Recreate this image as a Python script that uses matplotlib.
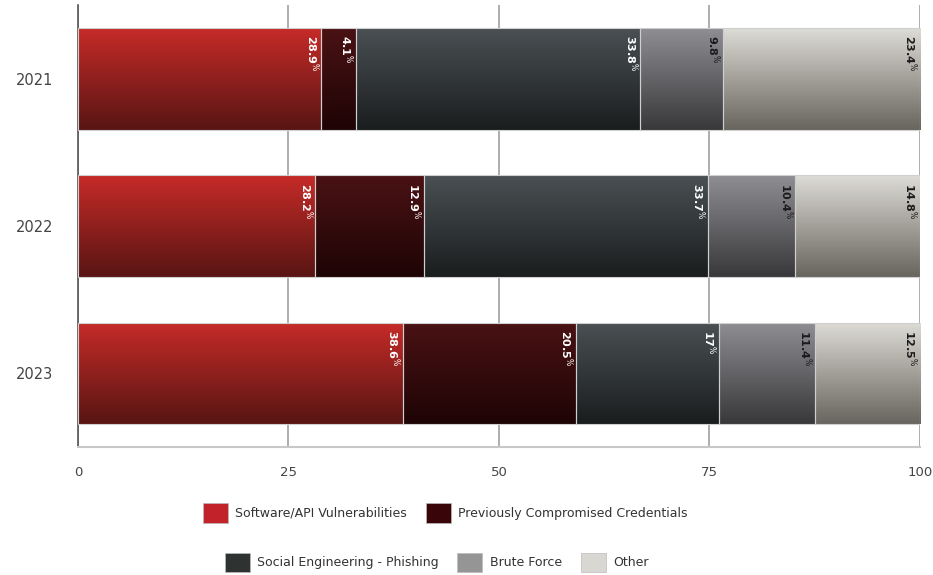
import matplotlib
matplotlib.use('Agg')
import matplotlib.pyplot as plt
import numpy as np
from matplotlib.colors import LinearSegmentedColormap
from matplotlib.patches import Patch

years = ['2021', '2022', '2023']
categories = ['Software/API Vulnerabilities', 'Previously Compromised Credentials',
              'Social Engineering - Phishing', 'Brute Force', 'Other']
software = [28.9, 28.2, 38.6]
credentials = [4.1, 12.9, 20.5]
phishing = [33.8, 33.7, 17]
brute = [9.8, 10.4, 11.4]
other = [23.4, 14.8, 12.5]
series = [software, credentials, phishing, brute, other]

# top / bottom colours of each gradient, plus legend swatch and label colour
grad = [('#c62b28', '#581513'), ('#4a1214', '#1e0405'), ('#4a5053', '#1a1d1e'),
        ('#8f8e93', '#38383a'), ('#dedcd6', '#68645e')]
swatch = ['#c2222a', '#3a0508', '#2e3332', '#959595', '#d9d7d1']
label_col = ['white', 'white', 'white', '#1a1a1a', '#1a1a1a']

fig = plt.figure(figsize=(9.33, 5.75), dpi=100)
ax = fig.add_axes([0.0836, 0.2226, 0.9024, 0.7686])

ypos = np.arange(len(years))
left = np.zeros(len(years))
gradient = np.linspace(0, 1, 256).reshape(-1, 1)
for vals, (c_top, c_bot), tc in zip(series, grad, label_col):
    bars = ax.barh(ypos, vals, left=left, height=0.69, color='none',
                   edgecolor='#cfcfcf', linewidth=0.8, zorder=3)
    cmap = LinearSegmentedColormap.from_list('g', [c_top, c_bot])
    for b in bars:
        x0, y0 = b.get_x(), b.get_y()
        w, h = b.get_width(), b.get_height()
        im = ax.imshow(gradient, cmap=cmap, aspect='auto', interpolation='bicubic',
                       extent=(x0, x0 + w, y0, y0 + h), origin='lower', zorder=2)
        im.set_clip_path(b)
    for y, v, l in zip(ypos, vals, left):
        ax.text(l + v - 1.1, y - 0.69 / 2 + 0.05, f'{v:g}' + r'$^{\%}$',
                rotation=270, ha='center', va='top', fontsize=8,
                color=tc, fontweight='bold', zorder=4)
    left = left + np.array(vals)

ax.set_xlim(0, 100)
ax.set_ylim(2.5, -0.5)
ax.set_xticks([0, 25, 50, 75, 100])
ax.set_yticks(ypos)
ax.set_yticklabels(years, fontsize=10.5, color='#444444')
ax.tick_params(axis='x', length=0, labelsize=9.5, labelcolor='#444444', pad=14)
ax.tick_params(axis='y', length=0, pad=18)
ax.grid(axis='x', color='#a0a0a0', linewidth=1.2, zorder=0)
for s in ['top', 'right']:
    ax.spines[s].set_visible(False)
ax.spines['left'].set_color('#555555')
ax.spines['left'].set_linewidth(1.2)
ax.spines['bottom'].set_color('#c8c8c8')
ax.spines['bottom'].set_linewidth(1.5)

handles = [Patch(facecolor=c, edgecolor='#bbbbbb', linewidth=0.5) for c in swatch]
leg_kw = dict(loc='center', frameon=False, fontsize=9, handlelength=2.0,
              handleheight=2.0, handletextpad=0.6, columnspacing=1.5,
              labelcolor='#333333')
fig.legend(handles[:2], categories[:2], ncol=2, bbox_to_anchor=(0.477, 0.108), **leg_kw)
fig.legend(handles[2:], categories[2:], ncol=3, bbox_to_anchor=(0.468, 0.022), **leg_kw)

fig.savefig('out.png', dpi=100)
